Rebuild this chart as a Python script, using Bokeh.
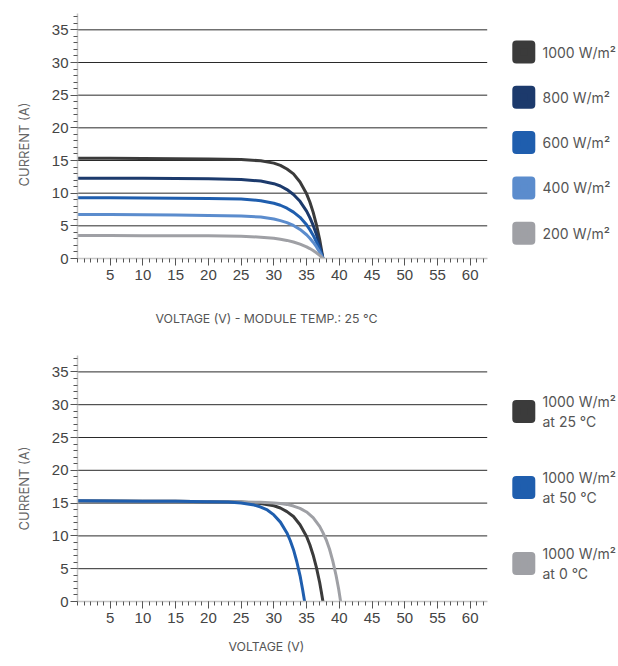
from bokeh.plotting import figure
from bokeh.models import FixedTicker, Range1d, Title
from bokeh.layouts import column
from bokeh.embed import file_html
from bokeh.resources import INLINE
from bokeh.core.properties import value

# ---------------- data ----------------
irr_labels = ["1000 W/m²", "800 W/m²", "600 W/m²", "400 W/m²", "200 W/m²"]
irr_colors = ["#3b3b3b", "#1c3a6c", "#1f5eae", "#5b8ccd", "#9fa0a5"]
v_irr = [0, 5, 10, 15, 20, 25, 28, 30, 31, 32, 33, 34, 35, 35.5, 36, 36.5, 37, 37.25, 37.5]
i_1000 = [15.35, 15.33, 15.30, 15.27, 15.22, 15.15, 14.95, 14.6, 14.25, 13.7, 12.95, 11.7, 9.9, 8.65, 7.1, 5.2, 2.9, 1.5, 0]
i_800 = [12.3, 12.29, 12.27, 12.25, 12.22, 12.1, 11.85, 11.45, 11.1, 10.55, 9.8, 8.75, 7.25, 6.25, 5.1, 3.7, 2.0, 1.05, 0]
i_600 = [9.3, 9.28, 9.26, 9.24, 9.2, 9.1, 8.85, 8.45, 8.15, 7.7, 7.1, 6.3, 5.15, 4.42, 3.57, 2.57, 1.4, 0.72, 0]
i_400 = [6.75, 6.72, 6.69, 6.65, 6.6, 6.5, 6.35, 6.05, 5.8, 5.5, 5.06, 4.45, 3.63, 3.1, 2.5, 1.8, 0.97, 0.5, 0]
i_200 = [3.52, 3.51, 3.5, 3.49, 3.47, 3.4, 3.27, 3.09, 2.95, 2.77, 2.53, 2.21, 1.79, 1.52, 1.22, 0.87, 0.47, 0.24, 0]

temp_labels = ["1000 W/m²\nat 25 °C", "1000 W/m²\nat 50 °C", "1000 W/m²\nat 0 °C"]
temp_colors = ["#3b3b3b", "#1f5eae", "#9fa0a5"]
v_25 = v_irr
i_25 = i_1000
v_50 = [0, 5, 10, 15, 20, 23, 25, 27, 28, 29, 30, 31, 32, 32.5, 33, 33.5, 34, 34.4, 34.7]
i_50 = [15.35, 15.33, 15.3, 15.27, 15.22, 15.15, 15.0, 14.7, 14.4, 13.95, 13.2, 12.1, 10.45, 9.3, 7.9, 6.1, 3.95, 1.8, 0]
v_0 = [0, 5, 10, 15, 20, 25, 28, 30, 31, 32, 33, 34, 35, 36, 37, 37.5, 38, 38.5, 39, 39.5, 39.9, 40.2]
i_0 = [15.35, 15.33, 15.3, 15.27, 15.22, 15.18, 15.12, 15.03, 14.95, 14.8, 14.55, 14.2, 13.65, 12.8, 11.45, 10.5, 9.4, 8.0, 6.2, 4.0, 1.9, 0]

x_ticks = [5, 10, 15, 20, 25, 30, 35, 40, 45, 50, 55, 60]
y_ticks = [0, 5, 10, 15, 20, 25, 30, 35]
x_minor = list(range(0, 63))
y_minor = list(range(0, 38))

x_title_top = "VOLTAGE (V) - MODULE TEMP.: 25 °C"
x_title_bottom = "VOLTAGE (V)"
y_title = "CURRENT (A)"

# ---------------- layout constants ----------------
FIG_W = 616
BORDER_L = 77
FRAME_W = FIG_W - BORDER_L
PX_PER_X = 6.545
X_END = FRAME_W / PX_PER_X
AXIS_X_END = 62.6
Y_END = 37.5
TITLE_FONT = "Inter"


def make_chart(height, b_top, b_bottom, series, leg_labels, leg_colors,
               leg_first_px, leg_step_px, xtitle, xt_left_px, xt_standoff, yt_offset):
    frame_h = height - b_top - b_bottom
    ppy = frame_h / Y_END
    p = figure(width=FIG_W, height=height, output_backend="svg", toolbar_location=None,
               x_range=Range1d(0, X_END), y_range=Range1d(0, Y_END),
               min_border_left=BORDER_L, min_border_right=0,
               min_border_top=b_top, min_border_bottom=b_bottom)
    p.outline_line_color = None
    p.xgrid.visible = False
    p.ygrid.visible = False

    # grid lines (limited to the axis extent)
    gy = y_ticks[1:]
    p.segment(x0=[0] * len(gy), y0=gy, x1=[AXIS_X_END] * len(gy), y1=gy,
              line_color="#2a2a2a", line_width=1)

    for xs, ys, col in series:
        p.line(xs, ys, line_color=col, line_width=3)

    xa = p.xaxis[0]
    xa.ticker = FixedTicker(ticks=x_ticks, minor_ticks=x_minor)
    xa.bounds = (0, AXIS_X_END)
    ya = p.yaxis[0]
    ya.ticker = FixedTicker(ticks=y_ticks, minor_ticks=y_minor)
    ya.bounds = (0, Y_END)
    for ax in (xa, ya):
        ax.axis_line_color = "#c4c4c4"
        ax.axis_line_width = 1.5
        ax.major_tick_line_color = "#555555"
        ax.minor_tick_line_color = "#555555"
        ax.major_tick_in = 0
        ax.minor_tick_in = 0
        ax.major_tick_out = 7
        ax.minor_tick_out = 4
        ax.major_label_text_font = "Liberation Sans"
        ax.major_label_text_font_size = "15px"
        ax.major_label_text_color = "#444444"
    xa.major_label_standoff = 4
    ya.major_label_standoff = 2

    # legend (swatches + texts), positioned in pixels relative to frame
    n = len(leg_labels)
    ys_leg = [Y_END - (leg_first_px + k * leg_step_px) / ppy for k in range(n)]
    sx = (523.3 - BORDER_L) / PX_PER_X
    tx = (542.0 - BORDER_L) / PX_PER_X
    p.scatter(x=[sx] * n, y=ys_leg, marker="square", size=15,
              fill_color=leg_colors, line_color=leg_colors, line_width=8,
              line_join="round")
    p.text(x=[tx] * n, y=ys_leg, text=leg_labels, text_font=value(TITLE_FONT),
           text_font_size="14px", text_color="#555555", text_baseline="middle",
           text_align="left", text_line_height=1.2)

    # axis titles
    p.add_layout(Title(text=xtitle, align="left", offset=xt_left_px - BORDER_L,
                       standoff=xt_standoff, text_font=TITLE_FONT,
                       text_font_size="12.3px", text_color="#555555",
                       text_font_style="normal"), "below")
    p.add_layout(Title(text=y_title, align="left", offset=yt_offset,
                       standoff=30, vertical_align="top", text_font=TITLE_FONT,
                       text_font_size="13px", text_color="#666666",
                       text_font_style="normal"), "left")
    return p


top = make_chart(
    353, 13, 95,
    [(v_irr, i_1000, irr_colors[0]), (v_irr, i_800, irr_colors[1]),
     (v_irr, i_600, irr_colors[2]), (v_irr, i_400, irr_colors[3]),
     (v_irr, i_200, irr_colors[4])],
    irr_labels, irr_colors, 38.5, 45.3,
    x_title_top, 155, 52, 72)

bottom = make_chart(
    312, 2, 64,
    [(v_25, i_25, temp_colors[0]), (v_0, i_0, temp_colors[2]),
     (v_50, i_50, temp_colors[1])],
    temp_labels, temp_colors, 56, 76,
    x_title_bottom, 228, 22, 71)

layout = column(top, bottom, spacing=0)
open("out.html", "w").write(file_html(layout, INLINE))
